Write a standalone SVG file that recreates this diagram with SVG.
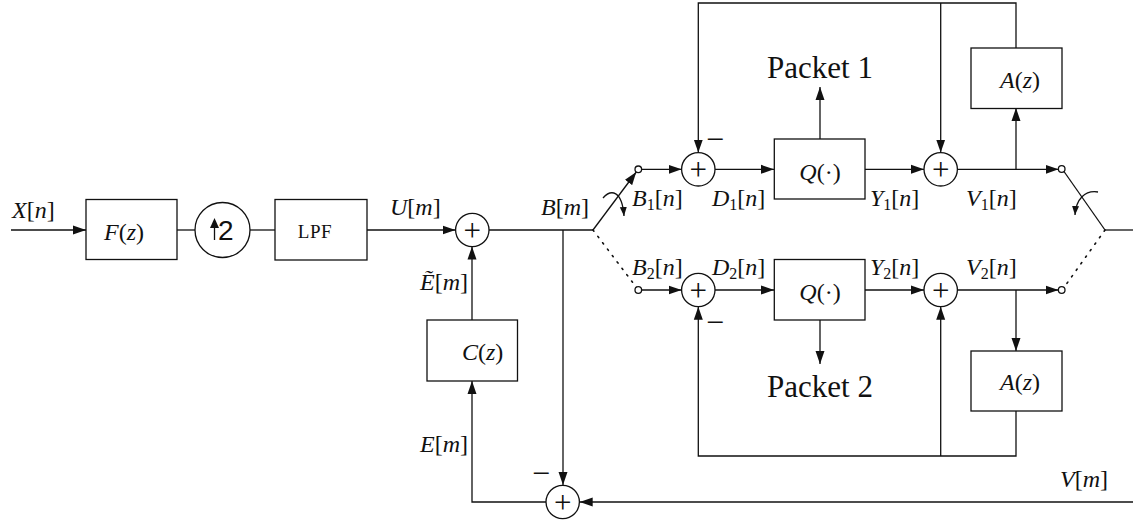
<svg xmlns="http://www.w3.org/2000/svg" width="1133" height="520" viewBox="0 0 1133 520">
<style>
.ln{fill:none;stroke:#111;stroke-width:1.3}
.bx{fill:#fff;stroke:#111;stroke-width:1.3}
.dt{fill:none;stroke:#111;stroke-width:1.6;stroke-dasharray:1.5 6.5;stroke-linecap:round}
.m{font-family:"Liberation Serif","Times New Roman",serif;font-size:24px;fill:#111}
.i{font-style:italic}
.s{font-size:16px}
.pk{font-family:"Liberation Serif","Times New Roman",serif;font-size:31px;fill:#111}
.pl{font-family:"Liberation Serif","Times New Roman",serif;font-size:31px;fill:#111;text-anchor:middle}
.mi{font-family:"Liberation Serif","Times New Roman",serif;font-size:32px;fill:#111}
</style>
<defs>
<marker id="ah" markerWidth="14" markerHeight="10" refX="13" refY="5" orient="auto" markerUnits="userSpaceOnUse">
<path d="M0,0.5 L13,5 L0,9.5 z" fill="#111"/>
</marker>
<marker id="ahs" markerWidth="10" markerHeight="8" refX="9" refY="4" orient="auto" markerUnits="userSpaceOnUse">
<path d="M0,0.5 L9,4 L0,7.5 z" fill="#111"/>
</marker>
</defs>
<rect width="1133" height="520" fill="#fff"/>

<g id="connectors">
<line class="ln" x1="11" y1="230" x2="86" y2="230" marker-end="url(#ah)"/>
<line class="ln" x1="177" y1="230" x2="195" y2="230"/>
<line class="ln" x1="250" y1="230" x2="275" y2="230"/>
<line class="ln" x1="367" y1="230" x2="455.5" y2="230" marker-end="url(#ah)"/>
<line class="ln" x1="489" y1="230" x2="593" y2="230"/>
<line class="ln" x1="472" y1="320" x2="472" y2="246.5" marker-end="url(#ah)"/>
<polyline class="ln" points="546,502 472,502 472,381" marker-end="url(#ah)"/>
<line class="ln" x1="563" y1="230" x2="563" y2="485" marker-end="url(#ah)"/>
<line class="ln" x1="1133" y1="502" x2="579.7" y2="502" marker-end="url(#ah)"/>
<line class="ln" x1="593" y1="230" x2="636.3" y2="172" marker-end="url(#ah)"/>
<line class="dt" x1="593" y1="230" x2="636.5" y2="287.5"/>
<path class="ln" d="M603,198 C611,189 622,190 624,216" marker-end="url(#ahs)"/>
<line class="ln" x1="641.6" y1="169.3" x2="681.6" y2="169.3" marker-end="url(#ah)"/>
<line class="ln" x1="715" y1="169.3" x2="774" y2="169.3" marker-end="url(#ah)"/>
<line class="ln" x1="865" y1="169.3" x2="924" y2="169.3" marker-end="url(#ah)"/>
<line class="ln" x1="957.4" y1="169.3" x2="1058.5" y2="169.3" marker-end="url(#ah)"/>
<line class="ln" x1="820" y1="139" x2="820" y2="87" marker-end="url(#ah)"/>
<line class="ln" x1="1016" y1="169.3" x2="1016" y2="108" marker-end="url(#ah)"/>
<polyline class="ln" points="1016,48 1016,3 698.3,3 698.3,152.6" marker-end="url(#ah)"/>
<line class="ln" x1="940.7" y1="3" x2="940.7" y2="152.6" marker-end="url(#ah)"/>
<line class="ln" x1="641.6" y1="290" x2="681.6" y2="290" marker-end="url(#ah)"/>
<line class="ln" x1="715" y1="290" x2="774" y2="290" marker-end="url(#ah)"/>
<line class="ln" x1="865" y1="290" x2="924" y2="290" marker-end="url(#ah)"/>
<line class="ln" x1="957.4" y1="290" x2="1058.5" y2="290" marker-end="url(#ah)"/>
<line class="ln" x1="820" y1="320" x2="820" y2="364" marker-end="url(#ah)"/>
<line class="ln" x1="1016" y1="290" x2="1016" y2="351" marker-end="url(#ah)"/>
<polyline class="ln" points="1016,411 1016,456 698.3,456 698.3,306.7" marker-end="url(#ah)"/>
<line class="ln" x1="940.7" y1="456" x2="940.7" y2="306.7" marker-end="url(#ah)"/>
<line class="ln" x1="1064" y1="171.5" x2="1105" y2="230"/>
<line class="dt" x1="1105" y1="230" x2="1064" y2="287.5"/>
<line class="ln" x1="1105" y1="230" x2="1133" y2="230"/>
<path class="ln" d="M1098,192 C1085,190 1076,199 1075,215" marker-end="url(#ahs)"/>
</g>

<g id="input-label"><text class="m" x="12" y="218"><tspan class="i">X</tspan>[<tspan class="i">n</tspan>]</text></g>

<g id="F">
<rect class="bx" x="86" y="199.5" width="91" height="60"/>
<text class="m" x="104" y="240"><tspan class="i">F</tspan>(<tspan class="i">z</tspan>)</text>
</g>

<g id="up2">
<circle class="bx" cx="222.5" cy="230" r="27.5"/>
<line class="ln" x1="214.5" y1="240" x2="214.5" y2="226"/>
<path d="M210,228 L214.5,218 L219,228 z" fill="#111"/>
<text x="218" y="240" font-family="Liberation Sans, Arial, sans-serif" font-size="28" fill="#111">2</text>
</g>

<g id="LPF">
<rect class="bx" x="275" y="199.5" width="92" height="60.5"/>
<text x="315" y="237.5" font-family="Liberation Serif, serif" font-size="19" letter-spacing="0.6" text-anchor="middle" fill="#111">LPF</text>
</g>

<g id="U-label"><text class="m" x="390" y="215"><tspan class="i">U</tspan>[<tspan class="i">m</tspan>]</text></g>

<g id="sum-main">
<circle class="bx" cx="472.3" cy="230" r="16.7"/>
<text class="pl" x="472.3" y="240.5">+</text>
</g>

<g id="B-label"><text class="m" x="541" y="215"><tspan class="i">B</tspan>[<tspan class="i">m</tspan>]</text></g>
<g id="Et-label"><text class="m" x="420" y="290"><tspan class="i">Ẽ</tspan>[<tspan class="i">m</tspan>]</text></g>

<g id="C">
<rect class="bx" x="427" y="320" width="90.5" height="61"/>
<text class="m" x="462" y="360"><tspan class="i">C</tspan>(<tspan class="i">z</tspan>)</text>
</g>

<g id="E-label"><text class="m" x="420" y="452"><tspan class="i">E</tspan>[<tspan class="i">m</tspan>]</text></g>

<g id="sum-bottom">
<circle class="bx" cx="562.7" cy="502" r="16.7"/>
<text class="pl" x="562.7" y="512.5">+</text>
<text class="mi" x="532" y="484">−</text>
</g>

<g id="V-label"><text class="m" x="1060" y="487"><tspan class="i">V</tspan>[<tspan class="i">m</tspan>]</text></g>

<g id="switch-left">
<circle class="bx" cx="638.3" cy="169.3" r="3.3"/>
<circle class="bx" cx="638.3" cy="290" r="3.3"/>
</g>

<g id="labels-upper">
<text class="m" x="632" y="206"><tspan class="i">B</tspan><tspan class="s" dy="4">1</tspan><tspan dy="-4">[</tspan><tspan class="i">n</tspan>]</text>
<text class="m" x="712" y="206"><tspan class="i">D</tspan><tspan class="s" dy="4">1</tspan><tspan dy="-4">[</tspan><tspan class="i">n</tspan>]</text>
<text class="m" x="870" y="206"><tspan class="i">Y</tspan><tspan class="s" dy="4">1</tspan><tspan dy="-4">[</tspan><tspan class="i">n</tspan>]</text>
<text class="m" x="966" y="206"><tspan class="i">V</tspan><tspan class="s" dy="4">1</tspan><tspan dy="-4">[</tspan><tspan class="i">n</tspan>]</text>
</g>
<g id="labels-lower">
<text class="m" x="632" y="275"><tspan class="i">B</tspan><tspan class="s" dy="4">2</tspan><tspan dy="-4">[</tspan><tspan class="i">n</tspan>]</text>
<text class="m" x="712" y="275"><tspan class="i">D</tspan><tspan class="s" dy="4">2</tspan><tspan dy="-4">[</tspan><tspan class="i">n</tspan>]</text>
<text class="m" x="870" y="275"><tspan class="i">Y</tspan><tspan class="s" dy="4">2</tspan><tspan dy="-4">[</tspan><tspan class="i">n</tspan>]</text>
<text class="m" x="966" y="275"><tspan class="i">V</tspan><tspan class="s" dy="4">2</tspan><tspan dy="-4">[</tspan><tspan class="i">n</tspan>]</text>
</g>

<g id="sum1-upper">
<circle class="bx" cx="698.3" cy="169.3" r="16.7"/>
<text class="pl" x="698.3" y="179.8">+</text>
<text class="mi" x="706" y="150">−</text>
</g>
<g id="Q-upper">
<rect class="bx" x="774.3" y="139" width="90.7" height="60"/>
<text class="m" x="820" y="180" text-anchor="middle"><tspan class="i">Q</tspan>(·)</text>
</g>
<g id="packet1"><text class="pk" x="767" y="78">Packet 1</text></g>
<g id="sum2-upper">
<circle class="bx" cx="940.7" cy="169.3" r="16.7"/>
<text class="pl" x="940.7" y="179.8">+</text>
</g>
<g id="A-upper">
<rect class="bx" x="971" y="48" width="91" height="60.5"/>
<text class="m" x="1020" y="88" text-anchor="middle"><tspan class="i">A</tspan>(<tspan class="i">z</tspan>)</text>
</g>

<g id="sum1-lower">
<circle class="bx" cx="698.3" cy="290" r="16.7"/>
<text class="pl" x="698.3" y="300.5">+</text>
<text class="mi" x="706" y="333">−</text>
</g>
<g id="Q-lower">
<rect class="bx" x="774.3" y="259.5" width="90.7" height="60.5"/>
<text class="m" x="820" y="300" text-anchor="middle"><tspan class="i">Q</tspan>(·)</text>
</g>
<g id="packet2"><text class="pk" x="767" y="397">Packet 2</text></g>
<g id="sum2-lower">
<circle class="bx" cx="940.7" cy="290" r="16.7"/>
<text class="pl" x="940.7" y="300.5">+</text>
</g>
<g id="A-lower">
<rect class="bx" x="971" y="351" width="91" height="60"/>
<text class="m" x="1020" y="390" text-anchor="middle"><tspan class="i">A</tspan>(<tspan class="i">z</tspan>)</text>
</g>

<g id="switch-right">
<circle class="bx" cx="1061.7" cy="169" r="3.3"/>
<circle class="bx" cx="1061.7" cy="290" r="3.3"/>
</g>
</svg>
